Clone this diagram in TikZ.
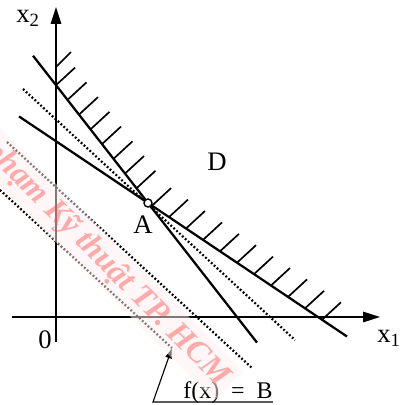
\documentclass[tikz,border=0pt]{standalone}
\usepackage{fontspec}
\setmainfont{Liberation Serif}
\usetikzlibrary{arrows.meta,positioning}

\begin{document}
\begin{tikzpicture}[
  x=0.25cm, y=0.25cm,
  axis/.style={line width=1pt, -{Triangle[length=4.2mm, width=2.6mm]}},
  bound/.style={line width=1.6pt},
  hatch/.style={line width=1.2pt},
  level/.style={line width=1.6pt, dash pattern=on 1.3pt off 1.5pt},
  lbl/.style={font=\fontsize{19}{21}\selectfont, inner sep=0pt},
  smalllbl/.style={font=\fontsize{17}{19}\selectfont, inner sep=0pt},
  vertex/.style={circle, draw, fill=white, line width=1pt, inner sep=0pt, minimum size=2mm},
  leader/.style={line width=0.8pt, {Latex[length=2.6mm, width=1.8mm]}-},
  stamp/.style={font=\fontsize{23}{25}\selectfont\bfseries\itshape, text=red!70, text opacity=0.45,
    fill=red!6, fill opacity=0.5, inner sep=4pt}
]
\useasboundingbox (-5.6,-8.8) rectangle (34.6,31.7);
\clip (-5.6,-8.8) rectangle (34.6,31.7);

% axes
\coordinate (x1s) at (-4.4,0);
\coordinate (x1e) at (32.4,0);
\coordinate (x2s) at (0,-2.5);
\coordinate (x2e) at (0,31.0);
\draw[axis] (x1s) -- (x1e);
\draw[axis] (x2s) -- (x2e);
\node[lbl] (x1) at (33.3,-2.1) {x\textsubscript{1}};
\node[lbl] (x2) at (-2.8,29.9) {x\textsubscript{2}};
\node[lbl] (o) at (-1.1,-2.3) {0};

% constraint lines
\coordinate (A) at (9.2,11.4);
\coordinate (s1) at (-2.3,26.13);
\coordinate (s2) at (20.1,-2.56);
\coordinate (t1) at (-3.7,20.06);
\coordinate (t2) at (29.1,-1.95);
\draw[bound] (s1) -- (s2);
\draw[bound] (t1) -- (t2);

% hatching of D
\foreach \x in {0,1.15,...,8.1}
  \draw[hatch] (\x,{11.4-1.281*(\x-9.2)}) -- ++(1.9,1.75);
\foreach \x in {9.6,11.3,...,26.7}
  \draw[hatch] (\x,{11.4-0.671*(\x-9.2)}) -- ++(1.9,1.75);
\draw[hatch] (0,25.0) -- ++(1.5,1.5);

% level lines of f
\coordinate (l1) at (-3.3,22.8);
\coordinate (l2) at (23.9,-2.3);
\coordinate (m1) at (-4.9,17.5);
\coordinate (m2) at (19.6,-5.1);
\coordinate (n1) at (-5.6,12.7);
\coordinate (n2) at (11.6,-3.1);
\draw[level] (l1) -- (l2);
\draw[level] (m1) -- (m2);
\draw[level] (n1) -- (n2);

\node[vertex] (a) at (A) {};
\node[lbl] (alab) at (8.7,9.2) {A};
\node[lbl] (d) at (16.1,15.5) {D};

% label of the level line
\node[smalllbl, anchor=base] (fx) at (17.2,-8.1) {f(x)\enspace=\enspace B};
\coordinate (knee) at (9.7,-8.5);
\draw[leader] (n2) -- (knee) -- (knee -| fx.east);

% stamp
\node[stamp, rotate=-45, anchor=east] (wm) at (17.3,-6.9) {Đại học Sư phạm Kỹ thuật TP. HCM};
\end{tikzpicture}
\end{document}
